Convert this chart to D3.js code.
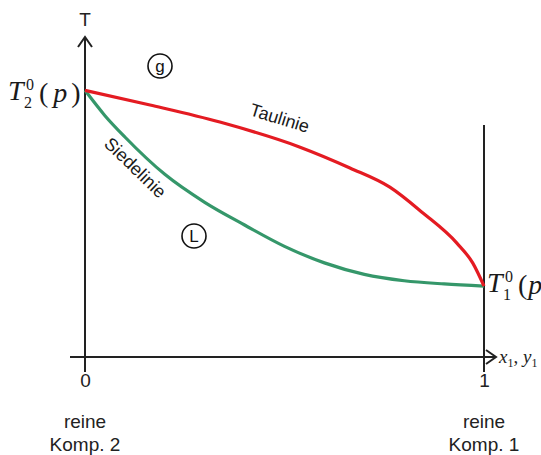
<!DOCTYPE html>
<html>
<head>
<meta charset="utf-8">
<script src="https://cdn.jsdelivr.net/npm/d3@7"></script>
<style>
  html, body { margin: 0; padding: 0; background: #fff; }
  svg { display: block; }
</style>
</head>
<body>
<svg id="chart" width="541" height="455"></svg>
<script>
// Mole fraction of component 1 and temperature (arbitrary units) along the two phase boundaries
const dewX   = [0, 0.163, 0.338, 0.539, 0.664, 0.764, 0.847, 0.932, 0.972, 1];
const dewT   = [100, 94.5, 88.1, 78.7, 70.9, 63.7, 54.0, 42.7, 35.2, 26.6];
const bubX   = [0, 0.05, 0.1, 0.2, 0.3, 0.4, 0.5, 0.6, 0.7, 0.8, 0.9, 1];
const bubT   = [100, 90.5, 82.5, 68.5, 58.0, 49.5, 41.5, 35.3, 31.0, 28.6, 27.4, 26.6];
const xTicks = [0, 1];
const xTickLabels = ["0", "1"];
const pureLabels = [["reine", "Komp. 2"], ["reine", "Komp. 1"]];

const svg = d3.select("#chart");
const x = d3.scaleLinear().domain([0, 1]).range([85, 484]);
const y = d3.scaleLinear().domain([0, 120]).range([357, 37]);

const axisColor = "#222";
const sans = "'Liberation Sans', Arial, sans-serif";
const serif = "'Liberation Serif', 'Times New Roman', serif";

// axes with open arrow heads
const axes = svg.append("g").attr("stroke", axisColor).attr("stroke-width", 2).attr("fill", "none");
axes.append("line").attr("x1", x(0)).attr("x2", x(0)).attr("y1", y(0) + 15).attr("y2", y(120));
axes.append("path").attr("d", `M${x(0) - 7},${y(120) + 10} L${x(0)},${y(120)} L${x(0) + 7},${y(120) + 10}`);
axes.append("line").attr("x1", x(0) - 15).attr("x2", x(1) + 12).attr("y1", y(0)).attr("y2", y(0));
axes.append("path").attr("d", `M${x(1) + 2},${y(0) - 7} L${x(1) + 12},${y(0)} L${x(1) + 2},${y(0) + 7}`);
// wall at pure component 1
axes.append("line").attr("x1", x(1)).attr("x2", x(1)).attr("y1", y(0) + 15).attr("y2", y(87));

// tick labels via the axis generator
const xAxis = d3.axisBottom(x).tickValues(xTicks).tickFormat((d, i) => xTickLabels[i]).tickSize(0).tickPadding(17);
const gx = svg.append("g").attr("transform", `translate(0,${y(0)})`).call(xAxis);
gx.select(".domain").remove();
gx.selectAll("text").attr("font-family", sans).attr("font-size", 19).attr("fill", axisColor);

// composition labels under the ticks
xTicks.forEach((v, i) => {
  const t = svg.append("text").attr("font-family", sans).attr("font-size", 19)
    .attr("fill", axisColor).attr("text-anchor", "middle");
  t.append("tspan").attr("x", x(v)).attr("y", 428).text(pureLabels[i][0]);
  t.append("tspan").attr("x", x(v)).attr("y", 451).text(pureLabels[i][1]);
});

// axis titles
svg.append("text").attr("x", x(0)).attr("y", 26).attr("text-anchor", "middle")
  .attr("font-family", sans).attr("font-size", 19).attr("fill", axisColor).text("T");

const xt = svg.append("text").attr("x", x(1) + 15).attr("y", y(0) + 6)
  .attr("font-family", serif).attr("font-size", 19).attr("fill", axisColor);
xt.append("tspan").attr("font-style", "italic").text("x");
xt.append("tspan").attr("font-size", 12).attr("dy", 4).text("1");
xt.append("tspan").attr("dy", -4).text(", ");
xt.append("tspan").attr("font-style", "italic").text("y");
xt.append("tspan").attr("font-size", 12).attr("dy", 4).text("1");

// phase boundary curves
const line = d3.line().x(d => x(d[0])).y(d => y(d[1])).curve(d3.curveMonotoneX);
svg.append("path").datum(bubX.map((v, i) => [v, bubT[i]]))
  .attr("d", line).attr("fill", "none").attr("stroke", "#35976a").attr("stroke-width", 3.2);
svg.append("path").datum(dewX.map((v, i) => [v, dewT[i]]))
  .attr("d", line).attr("fill", "none").attr("stroke", "#e41b22").attr("stroke-width", 3.2);

// boiling points of the pure components: T, subscript, superscript 0, (p)
function boilLabel(px, py, sub, closeParen, gap) {
  const g = svg.append("g").attr("font-family", serif).attr("fill", "#1a1a1a");
  g.append("text").attr("x", px).attr("y", py).attr("font-size", 28)
    .attr("font-style", "italic").text("T");
  g.append("text").attr("x", px + 16).attr("y", py + 8).attr("font-size", 16).text(sub);
  g.append("text").attr("x", px + 18).attr("y", py - 10).attr("font-size", 16).text("0");
  const rest = g.append("text").attr("x", px + 31).attr("y", py + 2).attr("font-size", 28);
  rest.append("tspan").text("(");
  rest.append("tspan").attr("font-style", "italic").attr("dx", gap).text("p");
  if (closeParen) rest.append("tspan").attr("dx", 4).text(")");
}
boilLabel(8, y(100) + 10, "2", true, 5);
boilLabel(x(1) + 3, y(26.6) + 6, "1", false, 1);

// region labels
function regionMark(cx, cy, label) {
  svg.append("circle").attr("cx", cx).attr("cy", cy).attr("r", 12)
    .attr("fill", "#fff").attr("stroke", "#111").attr("stroke-width", 1.6);
  svg.append("text").attr("x", cx).attr("y", cy + 6).attr("text-anchor", "middle")
    .attr("font-family", sans).attr("font-size", 17).attr("fill", "#111").text(label);
}
regionMark(160, 66, "g");
regionMark(194, 236, "L");

// curve names
svg.append("text").attr("transform", "translate(278,124) rotate(17)").attr("text-anchor", "middle")
  .attr("font-family", sans).attr("font-size", 18).attr("fill", "#1a1a1a").text("Taulinie");
svg.append("text").attr("transform", "translate(131,172) rotate(44)").attr("text-anchor", "middle")
  .attr("font-family", sans).attr("font-size", 18).attr("fill", "#1a1a1a").text("Siedelinie");
</script>
</body>
</html>
